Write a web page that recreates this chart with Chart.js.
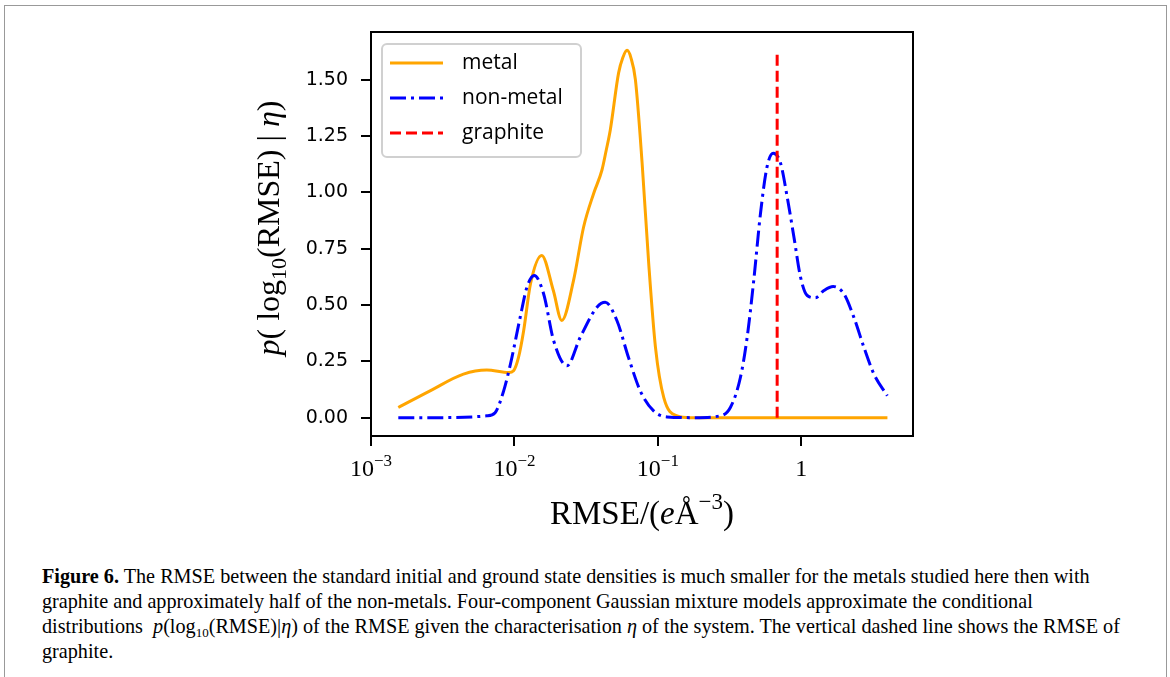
<!DOCTYPE html>
<html>
<head>
<meta charset="utf-8">
<script src="https://cdn.jsdelivr.net/npm/chart.js@4.4.0/dist/chart.umd.min.js"></script>
<style>
  html, body { margin: 0; padding: 0; background: #fff; }
  body { width: 1170px; height: 677px; position: relative; overflow: hidden; }
  #frame { position: absolute; left: 4px; top: 5px; width: 1161px; height: 700px; border: 1px solid #999; }
  #wrap { position: absolute; left: 230px; top: 20px; width: 700px; height: 520px; }
  #caption { position: absolute; left: 42px; top: 564px; font-family: 'Liberation Serif', serif; font-size: 20.2px; line-height: 25px; white-space: nowrap; color: #000; }
  #caption sub { font-size: 13px; line-height: 0; vertical-align: -4px; }
</style>
</head>
<body>
<div id="frame"></div>
<div id="wrap"><canvas id="chart" width="700" height="520"></canvas></div>
<div id="caption">
<b>Figure 6.</b> The RMSE between the standard initial and ground state densities is much smaller for the metals studied here then with<br>
graphite and approximately half of the non-metals. Four-component Gaussian mixture models approximate the conditional<br>
distributions &nbsp;<i>p</i>(log<sub>10</sub>(RMSE)|<i>η</i>) of the RMSE given the characterisation <i>η</i> of the system. The vertical dashed line shows the RMSE of<br>
graphite.
</div>
<script>
// values (x = RMSE, y = density)
var metalX = [0.00155, 0.00258, 0.00441, 0.00641, 0.00912, 0.00986, 0.01067, 0.01159, 0.01294, 0.01549,
              0.01866, 0.02138, 0.02582, 0.03034, 0.03565, 0.04074, 0.04365, 0.04656, 0.05321, 0.05689,
              0.06095, 0.06486, 0.06966, 0.07762, 0.0863, 0.09616, 0.1099, 0.1361, 0.1683, 3.98];
var metalY = [0.045, 0.119, 0.193, 0.211, 0.200, 0.208, 0.267, 0.386, 0.594, 0.72,
              0.564, 0.431, 0.609, 0.846, 0.995, 1.099, 1.188, 1.277, 1.53, 1.597,
              1.63, 1.597, 1.5, 1.129, 0.683, 0.312, 0.089, 0.008, 0, 0];

var nonMetalX = [0.00155, 0.00316, 0.00641, 0.00733, 0.00841, 0.00938, 0.01096, 0.01222, 0.01374, 0.01596,
                 0.01875, 0.02323, 0.02871, 0.03758, 0.04295, 0.05176, 0.06237, 0.07534, 0.09333, 0.1156,
                 0.1778, 0.2723, 0.3199, 0.3758, 0.4188, 0.4656, 0.5188, 0.5768, 0.6368, 0.7161,
                 0.7962, 0.8872, 0.9863, 1.099, 1.253, 1.435, 1.667, 1.977, 2.323, 2.729,
                 3.206, 3.972];
var nonMetalY = [0, 0, 0.008, 0.022, 0.119, 0.238, 0.445, 0.579, 0.631, 0.55,
                 0.342, 0.23, 0.356, 0.49, 0.512, 0.431, 0.267, 0.119, 0.03, 0.003,
                 0, 0.008, 0.045, 0.178, 0.356, 0.609, 0.906, 1.114, 1.173, 1.129,
                 0.98, 0.802, 0.624, 0.542, 0.532, 0.564, 0.582, 0.55, 0.445, 0.312,
                 0.193, 0.097];

var graphiteX = [0.678, 0.678];
var graphiteY = [0, 1.63];

var seriesNames = ['metal', 'non-metal', 'graphite'];
var xTickValues = [0.001, 0.01, 0.1, 1];
var xTickBase = ['10', '10', '10', '1'];
var xTickExp = ['\u22123', '\u22122', '\u22121', ''];
var yTickValues = [0, 0.25, 0.5, 0.75, 1, 1.25, 1.5];
var yTickLabels = ['0.00', '0.25', '0.50', '0.75', '1.00', '1.25', '1.50'];

function pts(xs, ys) {
    return xs.map(function (x, i) { return { x: x, y: ys[i] }; });
}

var SERIF = "'Liberation Serif', serif";

// draws a run of text pieces with their own font / vertical shift, centred on 0
function drawPieces(ctx, pieces, y) {
    var total = 0;
    pieces.forEach(function (p) { ctx.font = p.f; total += ctx.measureText(p.t).width; });
    var x = -total / 2;
    pieces.forEach(function (p) {
        ctx.font = p.f;
        ctx.fillText(p.t, x, y + (p.dy || 0));
        x += ctx.measureText(p.t).width;
    });
}

var decorPlugin = {
    id: 'decor',
    afterDraw: function (chart) {
        var ctx = chart.ctx, a = chart.chartArea;
        ctx.save();
        // axes frame
        ctx.strokeStyle = '#000';
        ctx.lineWidth = 2;
        ctx.strokeRect(a.left, a.top, a.right - a.left, a.bottom - a.top);

        ctx.fillStyle = '#000';
        ctx.textAlign = 'left';
        ctx.textBaseline = 'alphabetic';

        // x tick labels with real superscripts, placed by the x scale
        var xs = chart.scales.x;
        xTickValues.forEach(function (v, i) {
            ctx.save();
            ctx.translate(xs.getPixelForValue(v), 0);
            var pieces = [{ t: xTickBase[i], f: '24px ' + SERIF }];
            if (xTickExp[i]) pieces.push({ t: xTickExp[i], f: '17px ' + SERIF, dy: -10 });
            drawPieces(ctx, pieces, a.bottom + 40);
            ctx.restore();
        });

        // x title
        ctx.save();
        ctx.translate((a.left + a.right) / 2, 0);
        drawPieces(ctx, [
            { t: 'RMSE/(', f: '33px ' + SERIF },
            { t: 'e', f: 'italic 33px ' + SERIF },
            { t: '\u00C5', f: '33px ' + SERIF },
            { t: '\u22123', f: '23px ' + SERIF, dy: -15 },
            { t: ')', f: '33px ' + SERIF }
        ], 504);
        ctx.restore();

        // y title
        ctx.save();
        ctx.translate(40, (a.top + a.bottom) / 2 - 6);
        ctx.rotate(-Math.PI / 2);
        drawPieces(ctx, [
            { t: 'p', f: 'italic 32px ' + SERIF },
            { t: '( log', f: '32px ' + SERIF },
            { t: '10', f: '22px ' + SERIF, dy: 7 },
            { t: '(RMSE) | ', f: '32px ' + SERIF },
            { t: '\u03B7', f: 'italic 32px ' + SERIF },
            { t: ')', f: '32px ' + SERIF }
        ], 9);
        ctx.restore();

        // legend box
        var bx = 152, by = 24, bw = 199, bh = 113;
        ctx.beginPath();
        ctx.roundRect(bx, by, bw, bh, 5);
        ctx.fillStyle = 'rgba(255,255,255,0.8)';
        ctx.fill();
        ctx.strokeStyle = '#d0d0d0';
        ctx.lineWidth = 2;
        ctx.stroke();
        ctx.font = "21px 'Open Sans', sans-serif";
        ctx.textBaseline = 'middle';
        chart.data.datasets.forEach(function (ds, i) {
            var ry = 43 + i * 35;
            ctx.beginPath();
            ctx.setLineDash(ds.borderDash || []);
            ctx.strokeStyle = ds.borderColor;
            ctx.lineWidth = 3;
            ctx.moveTo(160, ry);
            ctx.lineTo(213, ry);
            ctx.stroke();
            ctx.setLineDash([]);
            ctx.fillStyle = '#000';
            ctx.fillText(ds.label, 232, ry);
        });
        ctx.restore();
    }
};

new Chart(document.getElementById('chart').getContext('2d'), {
    type: 'scatter',
    data: {
        datasets: [
            {
                label: seriesNames[0],
                data: pts(metalX, metalY),
                borderColor: '#ffa500',
                borderWidth: 3,
                showLine: true,
                pointRadius: 0,
                cubicInterpolationMode: 'monotone',
                order: 3
            },
            {
                label: seriesNames[1],
                data: pts(nonMetalX, nonMetalY),
                borderColor: '#0000ff',
                borderWidth: 3,
                borderDash: [16, 5, 3, 5],
                showLine: true,
                pointRadius: 0,
                cubicInterpolationMode: 'monotone',
                order: 2
            },
            {
                label: seriesNames[2],
                data: pts(graphiteX, graphiteY),
                borderColor: '#ff0000',
                borderWidth: 3,
                borderDash: [11, 5],
                showLine: true,
                pointRadius: 0,
                order: 1
            }
        ]
    },
    options: {
        responsive: false,
        animation: false,
        layout: { padding: { top: 12, right: 17, left: 0, bottom: 0 } },
        plugins: {
            legend: { display: false },
            tooltip: { enabled: false }
        },
        scales: {
            x: {
                type: 'logarithmic',
                min: 0.001,
                max: 6,
                border: { display: false },
                grid: { drawOnChartArea: false, tickLength: 10, color: '#000', lineWidth: 2 },
                afterBuildTicks: function (scale) {
                    scale.ticks = xTickValues.map(function (v) { return { value: v }; });
                },
                ticks: { display: false },
                afterFit: function (scale) {
                    scale.height = 104;
                    scale.paddingLeft = 0;
                    scale.paddingRight = 0;
                }
            },
            y: {
                min: -0.0815,
                max: 1.7115,
                border: { display: false },
                grid: { drawOnChartArea: false, tickLength: 10, color: '#000', lineWidth: 2 },
                afterBuildTicks: function (scale) {
                    scale.ticks = yTickValues.map(function (v) { return { value: v }; });
                },
                ticks: {
                    padding: 13,
                    color: '#000',
                    font: { family: "'DejaVu Sans', sans-serif", size: 19 },
                    callback: function (v, i) { return yTickLabels[i]; }
                },
                afterFit: function (scale) {
                    scale.width = 141;
                    scale.paddingTop = 0;
                    scale.paddingBottom = 0;
                }
            }
        }
    },
    plugins: [decorPlugin]
});
</script>
</body>
</html>
